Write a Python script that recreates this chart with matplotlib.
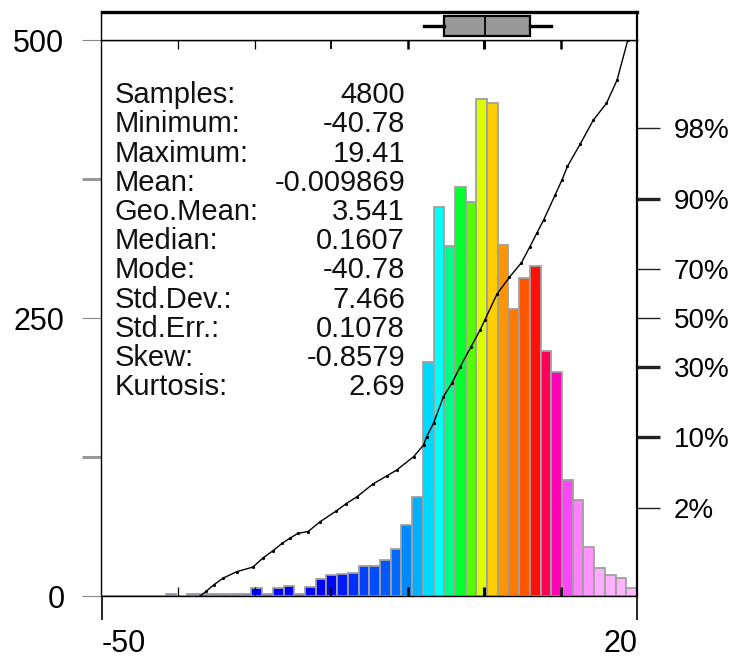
"""Histogram with stats block, box plot strip and cumulative probability curve."""

import math
from statistics import NormalDist

import matplotlib
matplotlib.use("Agg")
import matplotlib.pyplot as plt
import numpy as np
from matplotlib.colors import LinearSegmentedColormap
from matplotlib.ticker import NullLocator

plt.rcParams["font.family"] = ["Liberation Sans", "DejaVu Sans"]

# ------------------------------------------------------------
# DATA
# ------------------------------------------------------------
X_RANGE = (-50, 20)
N_BINS = 50
counts = [0, 0, 0, 0, 0, 0, 2, 0, 2, 2,
          2, 2, 2, 2, 7, 2, 7, 9, 2, 8,
          15, 19, 20, 21, 27, 27, 32, 42, 64, 89,
          210, 350, 315, 368, 354, 447, 443, 316, 258, 286,
          297, 220, 201, 104, 86, 44, 25, 19, 16, 7]

# cumulative curve, read as (value, cumulative %)
cdf_x = [-37.1, -36.3, -35.3, -34.1, -32.3, -30.2, -28.9, -27.6, -26.4, -25.4,
         -24.3, -23.0, -21.4, -19.3, -18.0, -16.6, -14.5, -12.7, -11.4, -9.2,
         -7.9, -7.5, -6.6, -5.3, -4.2, -3.1, -1.7, -0.5, 0.1, 1.7,
         3.3, 4.9, 6.0, 6.9, 7.8, 9.3, 10.2, 10.9, 12.6, 14.3,
         16.0, 17.4, 18.8]
cdf_pct = [0.135, 0.16, 0.20, 0.25, 0.31, 0.36, 0.48, 0.60, 0.75, 0.87,
           1.01, 1.06, 1.40, 1.87, 2.26, 2.69, 3.67, 4.42, 5.05, 6.73,
           8.53, 10.0, 12.8, 19.8, 24.1, 30.0, 37.8, 44.9, 49.1, 60.2,
           66.9, 72.5, 77.9, 82.0, 85.5, 90.8, 93.2, 94.9, 97.0, 98.37,
           98.97, 99.49, 99.865]

# box plot strip
box_stats = dict(med=0.1607, q1=-5.25, q3=6.0, whislo=-7.9, whishi=8.8, fliers=[])

stat_names = ["Samples:", "Minimum:", "Maximum:", "Mean:", "Geo.Mean:", "Median:",
              "Mode:", "Std.Dev.:", "Std.Err.:", "Skew:", "Kurtosis:"]
stat_values = ["4800", "-40.78", "19.41", "-0.009869", "3.541", "0.1607",
               "-40.78", "7.466", "0.1078", "-0.8579", "2.69"]

pct_ticks = [2, 10, 30, 50, 70, 90, 98]

# bar colours follow the value (rainbow, blue -> pink)
color_anchors = [(-50, "#0000ff"), (-20, "#0000ff"), (-16, "#0040ff"), (-12, "#0060ff"),
                 (-8.7, "#00aaff"), (-5.9, "#00ffff"), (-4.5, "#00ff88"), (-3.1, "#00ff30"),
                 (-1.7, "#55ff00"), (-0.3, "#ddff00"), (1.1, "#ffcc00"), (2.5, "#ff9900"),
                 (5.3, "#ff6000"), (6.7, "#ff1000"), (8.1, "#ff0050"), (9.5, "#ff00b0"),
                 (10.9, "#ff44ff"), (12.3, "#ff80ff"), (15.1, "#ffaaff"), (20, "#ffbbff")]

# ------------------------------------------------------------
# probability scale helpers
# ------------------------------------------------------------
nd = NormalDist()
_inv = np.vectorize(nd.inv_cdf, otypes=[float])
_erf = np.vectorize(math.erf, otypes=[float])


def probit(p):
    p = np.clip(np.asarray(p, dtype=float), 1e-9, 1 - 1e-9)
    return _inv(p)


def inv_probit(z):
    return 0.5 * (1 + _erf(np.asarray(z, dtype=float) / math.sqrt(2)))


# ------------------------------------------------------------
# FIGURE
# ------------------------------------------------------------
W, H = 736, 658
fig = plt.figure(figsize=(W / 100, H / 100), dpi=100)
L, R = 101.5, 637
ax = fig.add_axes([L / W, (H - 596) / H, (R - L) / W, 556 / H])
ax_box = fig.add_axes([L / W, (H - 40) / H, (R - L) / W, 28.5 / H])

edges = np.linspace(X_RANGE[0], X_RANGE[1], N_BINS + 1)
centers = (edges[:-1] + edges[1:]) / 2
lo, hi = X_RANGE
cmap = LinearSegmentedColormap.from_list(
    "hist", [((v - lo) / (hi - lo), c) for v, c in color_anchors])
bar_colors = cmap((centers - lo) / (hi - lo))

ax.bar(edges[:-1], counts, width=np.diff(edges), align="edge",
       color=bar_colors, edgecolor="#a0a0a0", linewidth=1.3)
ax.set_xlim(*X_RANGE)
ax.set_ylim(0, 500)

# spines
for side in ("left", "bottom", "top"):
    ax.spines[side].set_linewidth(1.0)
ax.spines["right"].set_linewidth(1.6)

# y axis (counts), gray ticks outside
ax.set_yticks([0, 250, 500])
ax.set_yticks([125, 375], minor=True)
ax.tick_params(axis="y", which="major", length=13.7, width=0.8, color="#888888",
               labelsize=22, pad=13)
ax.tick_params(axis="y", which="minor", length=13.7, width=2.2, color="#999999")

# x axis: end labels outside, inner ticks top and bottom
ax.set_xticks([-50, 20])
ax.set_xticklabels(["-50", "20"])
ax.set_xticks(np.arange(-40, 20, 10), minor=True)
ax.tick_params(axis="x", which="major", direction="out", length=17, width=1.2,
               color="black", labelsize=22, pad=7, top=False)
ax.tick_params(axis="x", which="minor", direction="in", length=6.5, width=1.5,
               color="black", top=True, bottom=True)
xl = ax.get_xticklabels()
xl[0].set_horizontalalignment("left")
xl[1].set_horizontalalignment("right")
for t, w in zip(ax.xaxis.get_minor_ticks(), [0.9, 0.9, 1.3, 1.8, 2.2, 1.8]):
    t.tick1line.set_markeredgewidth(w)
    t.tick2line.set_markeredgewidth(w)

# stats block
y0, dy = (596 - 103.3) / 556, 29.2 / 556
for i, (name, val) in enumerate(zip(stat_names, stat_values)):
    y = y0 - i * dy
    ax.text(0.0252, y, name, transform=ax.transAxes, fontsize=21,
            va="baseline", ha="left", color="#111111")
    ax.text(0.5668, y, val, transform=ax.transAxes, fontsize=21,
            va="baseline", ha="right", color="#111111")

# cumulative probability curve on a normal-probability right axis
ax2 = ax.twinx()
ax2.set_yscale("function", functions=(probit, inv_probit))
ax2.set_ylim(nd.cdf(-3), nd.cdf(3))
ax2.plot(cdf_x, np.array(cdf_pct) / 100, color="black", lw=1.0,
         marker="o", ms=2.3, mew=0, clip_on=True)
ax2.set_yticks(np.array(pct_ticks) / 100)
ax2.set_yticklabels([f"{p}%" for p in pct_ticks])
ax2.yaxis.set_minor_locator(NullLocator())
ax2.tick_params(axis="y", which="major", length=16.5, width=1.0, color="#222222",
                labelsize=20, pad=10)
for t, p in zip(ax2.yaxis.get_major_ticks(), pct_ticks):
    t.tick2line.set_markeredgewidth(2.4 if p in (10, 30, 90) else 1.0)
for s in ax2.spines.values():
    s.set_visible(False)

# box plot strip
ax_box.bxp([box_stats], positions=[0.49], widths=0.70, orientation="horizontal",
           patch_artist=True, showcaps=False, showfliers=False,
           boxprops=dict(facecolor="#999999", edgecolor="black", linewidth=1.6),
           whiskerprops=dict(color="black", linewidth=2.4),
           medianprops=dict(color="black", linewidth=1.3))
ax_box.set_xlim(*X_RANGE)
ax_box.set_ylim(0, 1)
ax_box.set_xticks([])
ax_box.set_yticks([])
ax_box.spines["top"].set_linewidth(2.4)
ax_box.spines["left"].set_linewidth(1.0)
ax_box.spines["right"].set_linewidth(1.6)
ax_box.spines["bottom"].set_linewidth(1.0)

fig.savefig("out.png", dpi=100)
